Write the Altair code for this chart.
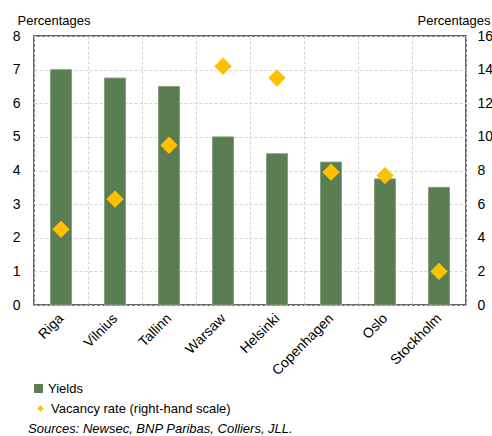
import altair as alt
import pandas as pd

# Office-market data by city
cities = ["Riga", "Vilnius", "Tallinn", "Warsaw", "Helsinki", "Copenhagen", "Oslo", "Stockholm"]
yields = [7.0, 6.75, 6.5, 5.0, 4.5, 4.25, 3.75, 3.5]
vacancy = [4.5, 6.3, 9.5, 14.2, 13.5, 7.9, 7.7, 2.0]
left_ticks = [0, 1, 2, 3, 4, 5, 6, 7, 8]
right_ticks = [0, 2, 4, 6, 8, 10, 12, 14, 16]
bar_name = "Yields"
point_name = "Vacancy rate (right-hand scale)"
source_note = "Sources: Newsec, BNP Paribas, Colliers, JLL."

GREEN = "#5a7e51"
GOLD = "#ffc000"
FONT = "Liberation Sans"

df = pd.DataFrame({
    "city": cities,
    "yields": yields,
    "vacancy": vacancy,
    "bar_series": [bar_name] * len(cities),
    "point_series": [point_name] * len(cities),
})

x_enc = alt.X(
    "city:N", sort=cities, title=None,
    scale=alt.Scale(paddingInner=0, paddingOuter=0),
    axis=alt.Axis(
        labelAngle=-45, labelAlign="right", labelBaseline="middle", labelPadding=11,
        ticks=False, domain=False, grid=True, tickBand="extent",
        gridColor="#d4d4d4", gridDash=[3, 2], gridWidth=1,
        labelFontSize=14, labelColor="black", labelFont=FONT,
    ),
)

bars = alt.Chart(df).mark_bar(size=21, stroke="#87a27f", strokeWidth=1).encode(
    x=x_enc,
    y=alt.Y(
        "yields:Q",
        scale=alt.Scale(domain=[0, 8], nice=False),
        axis=alt.Axis(
            values=left_ticks, ticks=False, domain=False, labelPadding=14,
            grid=True, gridColor="#d4d4d4", gridDash=[3, 2], gridWidth=1,
            labelFontSize=14, labelColor="black", labelFont=FONT,
            title="Percentages", titleAngle=0, titleAlign="left",
            titleBaseline="alphabetic", titleX=-17, titleY=-12,
            titleFontSize=13, titleFontWeight="normal", titleColor="black", titleFont=FONT,
        ),
    ),
    color=alt.Color(
        "bar_series:N",
        scale=alt.Scale(domain=[bar_name], range=[GREEN]),
        legend=alt.Legend(
            title=None, orient="none", legendX=-2, legendY=346, padding=0,
            symbolType="square", symbolSize=81, symbolStrokeWidth=0,
            labelFontSize=13, labelFont=FONT, labelColor="black", labelOffset=3,
            labelLimit=400,
        ),
    ),
)

points = alt.Chart(df).mark_point(shape="diamond", filled=True, size=300, opacity=1).encode(
    x=x_enc,
    y=alt.Y(
        "vacancy:Q",
        scale=alt.Scale(domain=[0, 16], nice=False),
        axis=alt.Axis(
            orient="right", values=right_ticks, ticks=False, domain=False,
            labelPadding=11, grid=False,
            labelFontSize=14, labelColor="black", labelFont=FONT,
            title="Percentages", titleAngle=0, titleAlign="left",
            titleBaseline="alphabetic", titleX=-49, titleY=-12,
            titleFontSize=13, titleFontWeight="normal", titleColor="black", titleFont=FONT,
        ),
    ),
    color=alt.Color(
        "point_series:N",
        scale=alt.Scale(domain=[point_name], range=[GOLD]),
        legend=alt.Legend(
            title=None, orient="none", legendX=0, legendY=366, padding=0,
            symbolType="diamond", symbolSize=40, symbolStrokeWidth=0,
            labelFontSize=13, labelFont=FONT, labelColor="black", labelOffset=4,
            labelLimit=400,
        ),
    ),
)

note = alt.Chart(pd.DataFrame({"note": [source_note]})).mark_text(
    align="left", baseline="alphabetic", fontSize=13, fontStyle="italic",
    font=FONT, color="black",
).encode(x=alt.value(-6), y=alt.value(397), text="note:N")

chart = (
    alt.layer(bars, points, note)
    .resolve_scale(y="independent", color="independent")
    .properties(
        width=432, height=269,
        autosize=alt.AutoSizeParams(type="none"),
        padding={"left": 34, "top": 36, "right": 26, "bottom": 131},
        background="white",
    )
    .configure_view(stroke="#333333", strokeWidth=1.5)
)

chart.save("out.html", embed_options={"renderer": "svg", "actions": False})
